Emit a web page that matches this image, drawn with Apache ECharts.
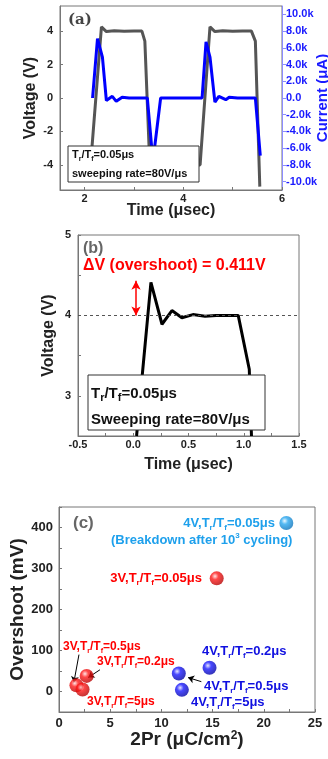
<!DOCTYPE html>
<html>
<head>
<meta charset="utf-8">
<script src="https://cdn.jsdelivr.net/npm/echarts@6/dist/echarts.min.js"></script>
<style>
  html, body { margin: 0; padding: 0; background: #fff; }
  #chart { width: 328px; height: 759px; }
</style>
</head>
<body>
<div id="chart"></div>
<script>
// panel (a): voltage pulse and switching current
const timeA = [1.75, 2.12, 2.34, 2.44, 2.6, 2.8, 3.0, 3.16, 3.22, 3.32, 4.34, 4.54, 4.64, 4.8, 5.0, 5.2, 5.38, 5.46, 5.55];
const voltA = [-4, -4, 4.25, 3.97, 4.02, 3.99, 4.01, 4.0, 3.4, -4, -4, 4.25, 3.97, 4.02, 3.99, 4.01, 4.0, 3.4, -5.3];
const timeI = [2.16, 2.26, 2.36, 2.44, 2.56, 2.64, 2.76, 2.9, 3.1, 3.27, 3.36, 3.42, 3.54, 3.8, 4.1, 4.38, 4.46, 4.54, 4.64, 4.72, 4.86, 4.93, 5.1, 5.3, 5.46, 5.56];
const currI = [0, 7100, 4900, -300, 200, -400, 100, 0, 0, 0, -6000, -5800, 0, 0, 0, 0, 6700, 4900, -500, 200, -200, 100, 0, 0, 0, -6900];
const ticksA = [-4, -2, 0, 2, 4];
const ticksI = [-10000, -8000, -6000, -4000, -2000, 0, 2000, 4000, 6000, 8000, 10000];
const timeTicksA = [2, 3, 4, 5, 6];
const timeLabelsA = [2, 4, 6];

// panel (b): zoom on one rising edge
const timeB = [0.03, 0.16, 0.26, 0.35, 0.44, 0.54, 0.65, 0.75, 0.85, 0.95, 1.05, 1.07];
const voltB = [2.5, 4.41, 3.89, 4.06, 3.97, 4.01, 3.99, 4.0, 4.0, 4.0, 3.33, 2.5];
const overshootArrow = [[0.025, 4.0], [0.025, 4.43]];

// panel (c): overshoot vs 2Pr
const red3V = [[1.7, 15], [2.7, 38], [2.3, 5], [15.4, 276]];
const blue4V = [[14.7, 58], [11.7, 44], [12.0, 4]];
const cyan4V = [[22.2, 411]];
const arrowsC = [
  [[1.95, 90], [1.45, 22]],
  [[4.0, 53], [2.85, 34]],
  [[13.9, 24], [12.6, 34]]
];

const FONT = '"Liberation Sans", Arial, sans-serif';
const DARK = '#222';
const FRAME = '#777';

function pairs(xs, ys) { return xs.map((x, i) => [x, ys[i]]); }

function sphere(light, mid, dark) {
  return {
    type: 'radial', x: 0.38, y: 0.35, r: 0.7,
    colorStops: [
      { offset: 0, color: light },
      { offset: 0.35, color: mid },
      { offset: 1, color: dark }
    ]
  };
}

function txt(x, y, text, color, size, align, subSize) {
  const sub = subSize || Math.round(size * 0.62);
  return {
    type: 'text', x: x, y: y, z: 200,
    style: {
      text: text,
      fill: color,
      font: 'bold ' + size + 'px ' + FONT,
      align: align || 'left',
      verticalAlign: 'middle',
      lineHeight: size + 4,
      rich: {
        s: { fontSize: sub, fontWeight: 'bold', fontFamily: FONT, fill: color, verticalAlign: 'bottom', lineHeight: sub + 2 },
        p: { fontSize: sub, fontWeight: 'bold', fontFamily: FONT, fill: color, verticalAlign: 'top', lineHeight: sub + 2 }
      }
    }
  };
}

const axisTxt = (size, color) => ({ fontFamily: FONT, fontWeight: 'bold', fontSize: size, color: color || DARK });
const frameLine = { show: true, onZero: false, lineStyle: { color: FRAME } };
const gridBase = { show: true, borderColor: FRAME, borderWidth: 1, containLabel: false, outerBoundsMode: 'none' };

const option = {
  animation: false,
  grid: [
    Object.assign({ left: 60, top: 6, width: 222, height: 184 }, gridBase),
    Object.assign({ left: 78, top: 235, width: 221, height: 201 }, gridBase),
    Object.assign({ left: 59, top: 507, width: 256, height: 205 }, gridBase)
  ],
  xAxis: [
    {
      gridIndex: 0, type: 'value', min: 1.5, max: 6,
      name: 'Time (\u03bcsec)', nameLocation: 'middle', nameGap: 13, nameMoveOverlap: false,
      nameTextStyle: axisTxt(16),
      axisLine: frameLine,
      axisTick: { inside: true, length: 3, customValues: timeTicksA, lineStyle: { color: FRAME } },
      axisLabel: Object.assign(axisTxt(11), { margin: 3, customValues: timeLabelsA }),
      splitLine: { show: false }
    },
    {
      gridIndex: 1, type: 'value', min: -0.5, max: 1.5, interval: 0.25,
      name: 'Time (\u03bcsec)', nameLocation: 'middle', nameGap: 21, nameMoveOverlap: false,
      nameTextStyle: axisTxt(16),
      axisLine: frameLine,
      axisTick: { inside: true, length: 3, lineStyle: { color: FRAME } },
      axisLabel: Object.assign(axisTxt(11), {
        margin: 3,
        showMinLabel: true, showMaxLabel: true,
        formatter: v => (Math.abs(v * 2 - Math.round(v * 2)) < 1e-6 ? v.toFixed(1) : '')
      }),
      splitLine: { show: false }
    },
    {
      gridIndex: 2, type: 'value', min: 0, max: 25, interval: 2.5,
      name: '2Pr (\u03bcC/cm{p|2})', nameLocation: 'middle', nameGap: 18, nameMoveOverlap: false,
      nameTextStyle: Object.assign(axisTxt(19), {
        rich: { p: { fontSize: 12, fontWeight: 'bold', fontFamily: FONT, color: DARK, verticalAlign: 'top', lineHeight: 12 } }
      }),
      axisLine: frameLine,
      axisTick: { inside: true, length: 3, lineStyle: { color: FRAME } },
      axisLabel: Object.assign(axisTxt(13), {
        margin: 5,
        formatter: v => (v % 5 === 0 ? String(v) : '')
      }),
      splitLine: { show: false }
    }
  ],
  yAxis: [
    {
      gridIndex: 0, type: 'value', min: -5.5, max: 5.5,
      name: 'Voltage (V)', nameLocation: 'middle', nameGap: 21, nameMoveOverlap: false,
      nameTextStyle: axisTxt(16),
      axisLine: frameLine,
      axisTick: { show: true, inside: true, length: 3, customValues: ticksA, lineStyle: { color: FRAME } },
      axisLabel: Object.assign(axisTxt(11), { margin: 7, customValues: ticksA }),
      splitLine: { show: false }
    },
    {
      gridIndex: 0, type: 'value', position: 'right', min: -11000, max: 11000,
      name: 'Current (\u03bcA)', nameLocation: 'middle', nameGap: 33, nameRotate: 90, nameMoveOverlap: false,
      nameTextStyle: axisTxt(15, '#1a1aff'),
      axisLine: { show: true, onZero: false, lineStyle: { color: '#8c8cff' } },
      axisTick: { show: true, length: 4, customValues: ticksI, lineStyle: { color: '#8c8cff' } },
      axisLabel: Object.assign(axisTxt(11, '#1a1aff'), {
        margin: 4,
        customValues: ticksI,
        formatter: v => (v === 0 ? '0.0' : (v / 1000).toFixed(1) + 'k')
      }),
      splitLine: { show: false }
    },
    {
      gridIndex: 1, type: 'value', min: 2.5, max: 5, interval: 0.5,
      name: 'Voltage (V)', nameLocation: 'middle', nameGap: 21, nameMoveOverlap: false,
      nameTextStyle: axisTxt(16),
      axisLine: frameLine,
      axisTick: { show: true, inside: true, length: 3, lineStyle: { color: FRAME } },
      axisLabel: Object.assign(axisTxt(11), {
        margin: 7,
        formatter: v => (Number.isInteger(v) ? String(v) : '')
      }),
      splitLine: { show: false }
    },
    {
      gridIndex: 2, type: 'value', min: -50, max: 450, interval: 50,
      name: 'Overshoot (mV)', nameLocation: 'middle', nameGap: 32, nameMoveOverlap: false,
      nameTextStyle: axisTxt(19),
      axisLine: frameLine,
      axisTick: { show: true, inside: true, length: 3, lineStyle: { color: FRAME } },
      axisLabel: Object.assign(axisTxt(13), {
        margin: 6,
        formatter: v => (v % 100 === 0 ? String(v) : '')
      }),
      splitLine: { show: false }
    }
  ],
  series: [
    {
      type: 'line', xAxisIndex: 0, yAxisIndex: 0, data: pairs(timeA, voltA),
      symbol: 'none', clip: true, z: 3,
      lineStyle: { color: '#555', width: 3 }
    },
    {
      type: 'line', xAxisIndex: 0, yAxisIndex: 1, data: pairs(timeI, currI),
      symbol: 'none', clip: true, z: 4,
      lineStyle: { color: '#0000ff', width: 3 }
    },
    {
      type: 'line', xAxisIndex: 1, yAxisIndex: 2, data: pairs(timeB, voltB),
      symbol: 'none', clip: true, z: 3,
      lineStyle: { color: '#000', width: 3 },
      markLine: {
        silent: true, animation: false,
        symbol: 'none',
        label: { show: false },
        data: [
          { yAxis: 4, lineStyle: { color: '#555', type: [3, 3], width: 1 } },
          [
            { coord: overshootArrow[0], symbol: 'arrow', symbolSize: [7, 9] },
            { coord: overshootArrow[1], symbol: 'arrow', symbolSize: [7, 9], lineStyle: { color: '#ff0000', width: 1.5, type: 'solid' } }
          ]
        ]
      }
    },
    {
      type: 'scatter', xAxisIndex: 2, yAxisIndex: 3, data: red3V,
      symbolSize: 14, z: 5,
      itemStyle: { color: sphere('#ffe0e0', '#ff1a1a', '#b00000') }
    },
    {
      type: 'scatter', xAxisIndex: 2, yAxisIndex: 3, data: blue4V,
      symbolSize: 14, z: 5,
      itemStyle: { color: sphere('#e0e0ff', '#1a1aff', '#0000a0') }
    },
    {
      type: 'scatter', xAxisIndex: 2, yAxisIndex: 3, data: cyan4V,
      symbolSize: 14, z: 5,
      itemStyle: { color: sphere('#e8f6ff', '#2aa8f0', '#0a70b8') },
      markLine: {
        silent: true, animation: false,
        label: { show: false },
        symbol: ['none', 'arrow'], symbolSize: 6,
        lineStyle: { color: '#000', width: 1, type: 'solid' },
        data: arrowsC.map(a => [{ coord: a[0] }, { coord: a[1] }])
      }
    }
  ],
  graphic: [
    // panel (a)
    { type: 'text', x: 68, y: 20, z: 200, style: { text: '(a)', fill: '#444', font: 'bold 15px "DejaVu Serif", "Liberation Serif", serif', verticalAlign: 'middle' } },
    { type: 'rect', x: 68, y: 146, z: 150, shape: { width: 131, height: 36 }, style: { fill: '#fff', stroke: '#333', lineWidth: 1 } },
    txt(72, 155, 'T{s|r}/T{s|f}=0.05\u03bcs', '#111', 11),
    txt(72, 174, 'sweeping rate=80V/\u03bcs', '#111', 11),
    // panel (b)
    txt(83, 249, '(b)', '#666', 16),
    txt(83, 266, '\u0394V (overshoot) = 0.411V', '#ff0000', 16),
    { type: 'rect', x: 88, y: 375, z: 150, shape: { width: 177, height: 55 }, style: { fill: '#fff', stroke: '#333', lineWidth: 1 } },
    txt(91, 394, 'T{s|r}/T{s|f}=0.05\u03bcs', '#111', 15, 'left', 11),
    txt(91, 420, 'Sweeping rate=80V/\u03bcs', '#111', 15),
    // panel (c)
    txt(73, 523, '(c)', '#666', 17),
    txt(275, 523, '4V,T{s|r}/T{s|f}=0.05\u03bcs', '#1ea0ec', 13, 'right'),
    txt(111, 540, '(Breakdown after 10{p|3} cycling)', '#1ea0ec', 13),
    txt(202, 578, '3V,T{s|r}/T{s|f}=0.05\u03bcs', '#ff0000', 13, 'right'),
    txt(202, 651, '4V,T{s|r}/T{s|f}=0.2\u03bcs', '#1010e0', 13),
    txt(204, 686, '4V,T{s|r}/T{s|f}=0.5\u03bcs', '#1010e0', 13),
    txt(191, 702, '4V,T{s|r}/T{s|f}=5\u03bcs', '#1010e0', 13),
    txt(63, 647, '3V,T{s|r}/T{s|f}=0.5\u03bcs', '#ff0000', 12),
    txt(97, 662, '3V,T{s|r}/T{s|f}=0.2\u03bcs', '#ff0000', 12),
    txt(87, 702, '3V,T{s|r}/T{s|f}=5\u03bcs', '#ff0000', 12)
  ]
};

const chart = echarts.init(document.getElementById('chart'), null, { renderer: 'canvas' });
chart.setOption(option);
</script>
</body>
</html>
